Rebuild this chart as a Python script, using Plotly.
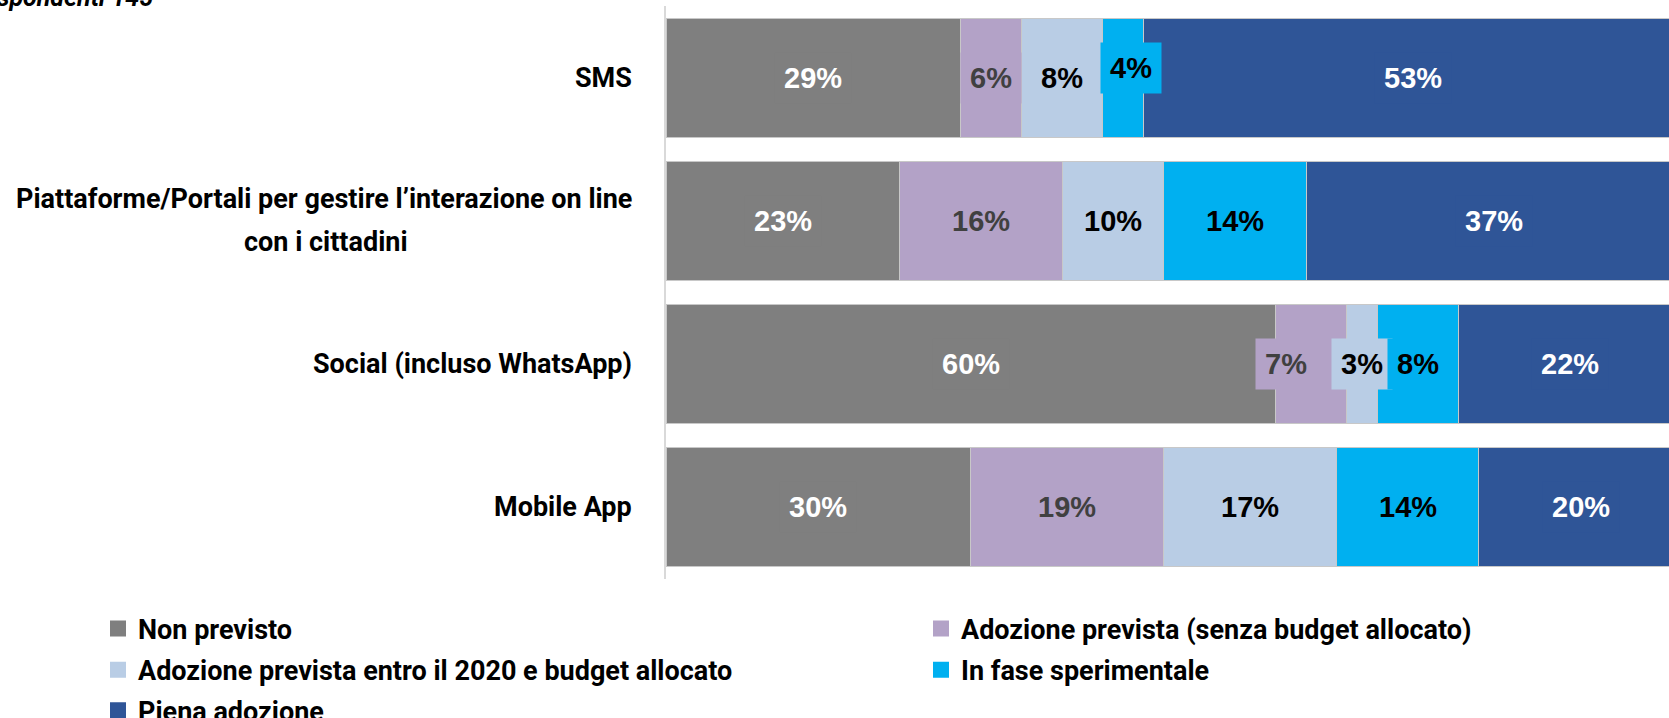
import plotly.graph_objects as go

# ---- data ----
categories = [
    "SMS",
    "Piattaforme/Portali per gestire l’interazione on line<br>con i cittadini",
    "Social (incluso WhatsApp)",
    "Mobile App",
]
series_names = [
    "Non previsto",
    "Adozione prevista (senza budget allocato)",
    "Adozione prevista entro il 2020 e budget allocato",
    "In fase sperimentale",
    "Piena adozione",
]
non_previsto = [29, 23, 60, 30]
adozione_senza_budget = [6, 16, 7, 19]
adozione_2020_budget = [8, 10, 3, 17]
fase_sperimentale = [4, 14, 8, 14]
piena_adozione = [53, 37, 22, 20]
note_text = "Rispondenti 145"

series_values = [non_previsto, adozione_senza_budget, adozione_2020_budget,
                 fase_sperimentale, piena_adozione]

# ---- styles ----
colors = ["#7F7F7F", "#B3A2C7", "#B9CDE5", "#00B0F0", "#2F5597"]
label_colors = ["#FFFFFF", "#404040", "#000000", "#000000", "#FFFFFF"]
legend_rows = ["legend", "legend", "legend2", "legend2", "legend3"]
label_shift = {(3, 0): (8, 10), (1, 2): (-25, 0)}  # (series, category): (xshift, yshift)
CAT_FONT = dict(family="Roboto, Lato, sans-serif", size=27, color="#000000", weight="bold")
VAL_FONT_FAMILY = "Liberation Sans, Arial, sans-serif"

fig = go.Figure()
for name, vals, col in zip(series_names, series_values, colors):
    fig.add_trace(go.Bar(
        y=categories, x=vals, name=name, orientation="h",
        marker=dict(color=col, line=dict(color="#C8C8C8", width=1)),
        legendgroup=name, showlegend=False, hoverinfo="skip",
    ))
# legend entries (square swatches) linked to the bars through legendgroup
for name, col, leg in zip(series_names, colors, legend_rows):
    fig.add_trace(go.Scatter(
        x=[None], y=[None], mode="markers", name=name,
        marker=dict(symbol="square", size=18, color=col),
        legendgroup=name, legend=leg, hoverinfo="skip",
    ))

# value labels
cum = [0] * len(categories)
for s, vals in enumerate(series_values):
    for i, v in enumerate(vals):
        xs, ys = label_shift.get((s, i), (0, 0))
        fig.add_annotation(
            x=cum[i] + v / 2, y=categories[i], xref="x", yref="y",
            text=f"{v}%", showarrow=False,
            font=dict(family=VAL_FONT_FAMILY, size=29, color=label_colors[s], weight="bold"),
            bgcolor=colors[s], borderpad=9,
            xshift=xs, yshift=ys,
        )
        cum[i] += v

# category labels: first line right-aligned at the axis, further lines centred on it
LINE_GAP = 43
for cat in categories:
    lines = cat.split("<br>")
    n = len(lines)
    fig.add_annotation(
        x=0, y=cat, xref="paper", yref="y", text=lines[0], showarrow=False,
        xanchor="right", yanchor="middle", xshift=-32,
        yshift=(n - 1) / 2 * LINE_GAP, font=CAT_FONT,
    )
    for k in range(1, n):
        fig.add_annotation(
            x=0, y=cat, xref="paper", yref="y", text=lines[k], showarrow=False,
            xanchor="center", yanchor="middle", xshift=-340,
            yshift=(n - 1) / 2 * LINE_GAP - k * LINE_GAP, font=CAT_FONT,
        )

# cut-off note at the top-left (as in the original crop)
fig.add_annotation(
    x=-0.5095, y=1.0157, xref="paper", yref="paper", text=note_text,
    showarrow=False, xanchor="right", yanchor="middle",
    font=dict(family="Roboto, sans-serif", size=25, color="#000000",
              weight="bold", style="italic"),
)

leg_common = dict(
    orientation="h", xanchor="left", yanchor="middle", x=-0.5663,
    entrywidth=778, entrywidthmode="pixels",
    font=dict(family="Roboto, Lato, sans-serif", size=27, color="#000000", weight="bold"),
    bgcolor="rgba(0,0,0,0)", borderwidth=0, traceorder="normal",
)

fig.update_layout(
    width=1669, height=718,
    barmode="stack", bargap=0.17,
    paper_bgcolor="white", plot_bgcolor="white",
    margin=dict(l=666, r=0, t=6, b=139, autoexpand=False),
    xaxis=dict(range=[0, 98.7], visible=False, fixedrange=True),
    yaxis=dict(
        categoryorder="array", categoryarray=categories, autorange="reversed",
        showticklabels=False, showgrid=False, zeroline=False,
        showline=True, linecolor="#D9D9D9", linewidth=1.5, ticks="",
        fixedrange=True,
    ),
    legend=dict(y=-0.0873, **leg_common),
    legend2=dict(y=-0.159, **leg_common),
    legend3=dict(y=-0.230, **leg_common),
    showlegend=True,
)

fig.write_html("out.html", config={"displayModeBar": False},
               post_script="document.body.style.margin='0';")
